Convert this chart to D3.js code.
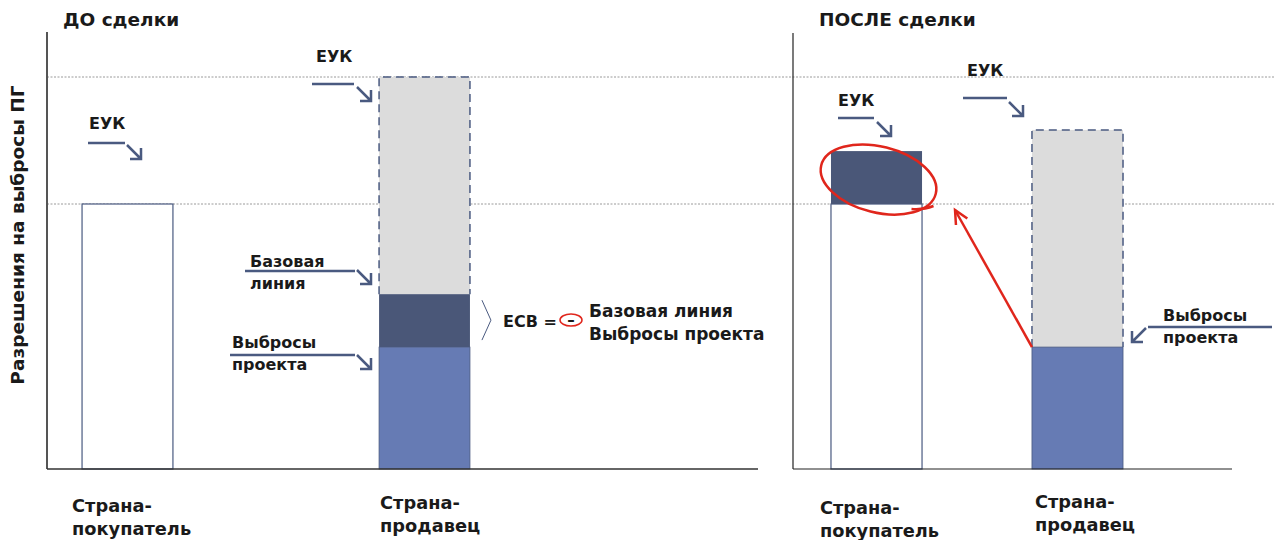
<!DOCTYPE html>
<html>
<head>
<meta charset="utf-8">
<script src="https://cdn.jsdelivr.net/npm/d3@7"></script>
<style>
  body { margin: 0; background: #fff; }
  text { font-family: "DejaVu Sans", sans-serif; font-weight: bold; fill: #1a1a1a; }
</style>
</head>
<body>
<svg id="chart" width="1274" height="540"></svg>
<script>
// Данные
const categories = ["Страна-покупатель", "Страна-продавец"];
const categoryLines = [["Страна-", "покупатель"], ["Страна-", "продавец"]];
const panelTitles = ["ДО сделки", "ПОСЛЕ сделки"];
const eukBefore = [67.6, 100];     // ЕУК до сделки: покупатель, продавец
const eukAfter = [81.1, 86.5];     // ЕУК после сделки
const baselineEmissions = 44.6;    // базовая линия продавца
const projectEmissions = 31.1;     // выбросы проекта

const svg = d3.select("#chart");

const navy = "#4a5a80",
      dark = "#4a5778",
      blue = "#667bb4",
      grey = "#dcdcdc",
      red = "#e0261c";

const y = d3.scaleLinear().domain([0, 100]).range([469, 77]);

const xBefore = d3.scaleBand().domain(categories).range([47, 505])
                  .paddingInner(0.694).paddingOuter(0.118);
const xAfter = d3.scaleBand().domain(categories).range([793, 1161])
                 .paddingInner(0.547).paddingOuter(0.189);

// Пунктирные уровни ЕУК
svg.selectAll("line.ref")
  .data([eukBefore[1], eukBefore[0]])
  .enter().append("line")
    .attr("class", "ref")
    .attr("x1", 47).attr("x2", 1274)
    .attr("y1", d => y(d)).attr("y2", d => y(d))
    .attr("stroke", "#9a9a9a")
    .attr("stroke-width", 1)
    .attr("stroke-dasharray", "2,1.5");

// Столбик с пунктирной рамкой (сверху и по бокам)
function dashedBar(g, x, cat, top, bottom) {
  g.append("rect")
    .attr("x", x(cat)).attr("y", y(top))
    .attr("width", x.bandwidth()).attr("height", y(bottom) - y(top))
    .attr("fill", grey);
  const x0 = x(cat), x1 = x(cat) + x.bandwidth();
  g.append("path")
    .attr("d", `M${x0},${y(bottom)}V${y(top)}H${x1}V${y(bottom)}`)
    .attr("fill", "none")
    .attr("stroke", navy)
    .attr("stroke-width", 1.5)
    .attr("stroke-dasharray", "8,5");
}

function solidBar(g, x, cat, top, bottom, fill, sw) {
  g.append("rect")
    .attr("x", x(cat)).attr("y", y(top))
    .attr("width", x.bandwidth()).attr("height", y(bottom) - y(top))
    .attr("fill", fill)
    .attr("stroke", navy)
    .attr("stroke-width", sw);
}

const gBefore = svg.append("g");
const gAfter = svg.append("g");

// ДО сделки
solidBar(gBefore, xBefore, categories[0], eukBefore[0], 0, "#fff", 1.2);
dashedBar(gBefore, xBefore, categories[1], eukBefore[1], baselineEmissions);
solidBar(gBefore, xBefore, categories[1], baselineEmissions, projectEmissions, dark, 0);
solidBar(gBefore, xBefore, categories[1], projectEmissions, 0, blue, 0.8);

// ПОСЛЕ сделки
solidBar(gAfter, xAfter, categories[0], eukBefore[0], 0, "#fff", 1.2);
solidBar(gAfter, xAfter, categories[0], eukAfter[0], eukBefore[0], dark, 0);
dashedBar(gAfter, xAfter, categories[1], eukAfter[1], projectEmissions);
solidBar(gAfter, xAfter, categories[1], projectEmissions, 0, blue, 0.8);

// Оси
svg.append("line").attr("x1", 47).attr("x2", 47).attr("y1", 32).attr("y2", y(0))
   .attr("stroke", "#555").attr("stroke-width", 2);
svg.append("line").attr("x1", 47).attr("x2", 758).attr("y1", y(0)).attr("y2", y(0))
   .attr("stroke", "#333").attr("stroke-width", 1.5);
svg.append("line").attr("x1", 793).attr("x2", 793).attr("y1", 33).attr("y2", y(0))
   .attr("stroke", "#222").attr("stroke-width", 1.2);
svg.append("line").attr("x1", 793).attr("x2", 1232).attr("y1", y(0)).attr("y2", y(0))
   .attr("stroke", "#222").attr("stroke-width", 1.2);

// Заголовки панелей
svg.append("text").attr("x", 63).attr("y", 26).style("font-size", "18.5px").text(panelTitles[0]);
svg.append("text").attr("x", 819).attr("y", 26).style("font-size", "18.5px").text(panelTitles[1]);

// Подпись оси Y
svg.append("text")
  .attr("transform", "translate(24,235) rotate(-90)")
  .attr("text-anchor", "middle")
  .style("font-size", "18.5px")
  .text("Разрешения на выбросы ПГ");

// Подписи категорий
function catLabels(x, offsets, ys) {
  categories.forEach((c, i) => {
    svg.append("text")
      .attr("x", x(c) + offsets[i])
      .style("font-size", "17.8px")
      .selectAll("tspan")
      .data(categoryLines[i])
      .enter().append("tspan")
        .attr("x", x(c) + offsets[i])
        .attr("y", (d, j) => ys[i] + j * 23)
        .text(d => d);
  });
}
catLabels(xBefore, [-10, 1], [512, 509]);
catLabels(xAfter, [-11, 3], [514, 508]);

// Выноски со стрелками
function callout(lines, tx, ty, lx0, lx1, ly, tip, dir) {
  const t = svg.append("text").style("font-size", "16px");
  lines.forEach((s, j) => {
    t.append("tspan").attr("x", tx).attr("y", ty + j * 22).text(s);
  });
  svg.append("line")
    .attr("x1", lx0).attr("x2", lx1).attr("y1", ly).attr("y2", ly)
    .attr("stroke", navy).attr("stroke-width", 2.5);
  const [ax, ay] = tip;
  const s = dir === "se" ? 1 : -1;
  svg.append("path")
    .attr("d", `M${ax - s * 14},${ay - 14}L${ax},${ay}M${ax},${ay - 11}L${ax},${ay}L${ax - s * 11},${ay}`)
    .attr("fill", "none")
    .attr("stroke", navy)
    .attr("stroke-width", 2.5);
}

callout(["ЕУК"], 89, 129, 88, 125, 143, [141, 159], "se");
callout(["ЕУК"], 316, 62, 312, 354, 84, [371, 101], "se");
callout(["Базовая", "линия"], 250, 267, 245, 355, 271, [371, 284], "se");
callout(["Выбросы", "проекта"], 232, 348, 230, 355, 355, [371, 369], "se");
callout(["ЕУК"], 838, 106, 838, 874, 118, [891, 136], "se");
callout(["ЕУК"], 967, 76, 963, 1007, 98, [1023, 116], "se");
callout(["Выбросы", "проекта"], 1163, 321, 1148, 1272, 327, [1132, 342], "sw");

// ЕСВ = Базовая линия - Выбросы проекта
const bx = xBefore(categories[1]) + xBefore.bandwidth() + 12;
svg.append("path")
  .attr("d", `M${bx},${y(baselineEmissions) + 6}L${bx + 9},${y(baselineEmissions) + 26}L${bx},${y(projectEmissions) - 7}`)
  .attr("fill", "none").attr("stroke", navy).attr("stroke-width", 1);
svg.append("text").attr("x", 503).attr("y", 327).style("font-size", "16px").text("ЕСВ =");
svg.append("ellipse").attr("cx", 571).attr("cy", 320).attr("rx", 11).attr("ry", 6)
   .attr("fill", "none").attr("stroke", red).attr("stroke-width", 1.5);
svg.append("text").attr("x", 571).attr("y", 325).attr("text-anchor", "middle")
   .style("font-size", "15px").text("–");
const ecb = svg.append("text").style("font-size", "17px");
ecb.append("tspan").attr("x", 589).attr("y", 317).text("Базовая линия");
ecb.append("tspan").attr("x", 589).attr("y", 340).text("Выбросы проекта");

// Красный овал и стрелка
const ex = xAfter(categories[0]) + xAfter.bandwidth() / 2 + 2;
const ey = (y(eukAfter[0]) + y(eukBefore[0])) / 2 + 2;
svg.append("ellipse")
  .attr("transform", `translate(${ex},${ey}) rotate(14)`)
  .attr("rx", 59).attr("ry", 33)
  .attr("fill", "none").attr("stroke", red).attr("stroke-width", 2.5);
svg.append("path")
  .attr("d", `M${ex + 33},${y(eukBefore[0]) + 5}Q${ex + 45},${y(eukBefore[0]) + 6} ${ex + 55},${y(eukBefore[0]) + 2}`)
  .attr("fill", "none").attr("stroke", red).attr("stroke-width", 2.5);

const sx = xAfter(categories[1]), sy = y(projectEmissions);
const tx = xAfter(categories[0]) + xAfter.bandwidth() + 33, ty = y(eukBefore[0]) + 6;
svg.append("line").attr("x1", sx).attr("y1", sy).attr("x2", tx).attr("y2", ty)
   .attr("stroke", red).attr("stroke-width", 2.5);
const ang = Math.atan2(sy - ty, sx - tx);
const hl = 15;
svg.append("path")
  .attr("d", `M${tx + hl * Math.cos(ang - 0.45)},${ty + hl * Math.sin(ang - 0.45)}L${tx},${ty}L${tx + hl * Math.cos(ang + 0.45)},${ty + hl * Math.sin(ang + 0.45)}`)
  .attr("fill", "none").attr("stroke", red).attr("stroke-width", 2.5);
</script>
</body>
</html>
